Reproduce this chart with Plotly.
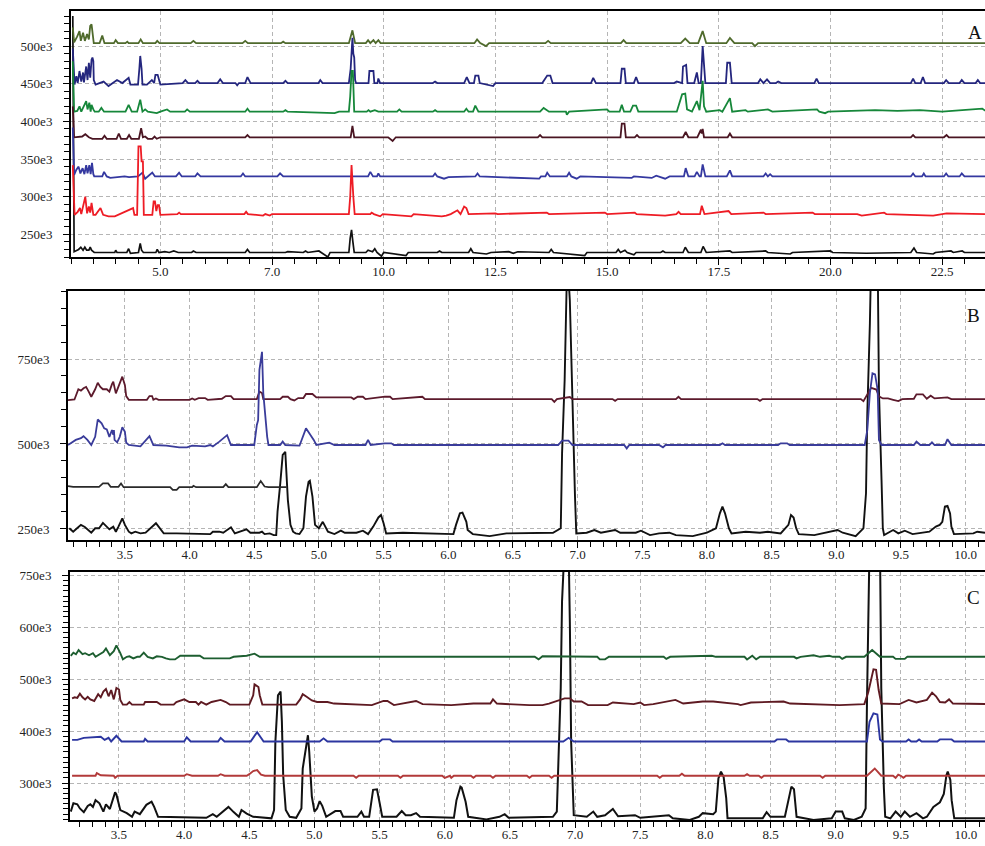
import plotly.graph_objects as go

W, H = 985, 846
FONT = "Liberation Serif, Times New Roman, serif"

# ---------------- Panel A (x: minutes, y: counts in thousands) ----------------
A_olive = [(3.04,525),(3.07,505),(3.14,513),(3.19,520),(3.22,507),(3.27,518),(3.31,507),(3.36,516),(3.40,509),(3.43,527),
           (3.46,529),(3.49,509),(3.51,504),(3.64,504),(3.70,514),(3.75,504),(3.96,504),(4.00,508),(4.05,504),(4.22,504),
           (4.26,506),(4.29,504),(4.51,504),(4.56,509),(4.61,504),(4.89,504),(4.93,507),(4.98,504),(5.68,504),(5.74,507),
           (5.80,504),(6.84,504),(6.90,507),(6.96,504),(7.70,504),(7.75,506),(7.80,504),(9.22,504),(9.30,521),(9.36,504),
           (9.60,504),(9.65,508),(9.70,504),(9.77,508),(9.82,504),(9.88,508),(9.93,504),(12.03,504),(12.09,509),(12.16,504),
           (12.29,500),(12.36,504),(13.62,504),(13.68,507),(13.74,504),(15.31,504),(15.37,508),(15.43,504),(16.65,504),(16.75,510),
           (16.85,504),(17.04,504),(17.14,520),(17.22,504),(17.67,504),(17.75,511),(17.85,504),(18.25,504),(18.31,500),(18.38,504),
           (23.5,504)]
A_navy = [(3.04,497),(3.08,449),(3.12,460),(3.15,451),(3.19,467),(3.23,453),(3.27,465),(3.29,452),(3.34,473),(3.37,455),
          (3.40,478),(3.43,458),(3.46,482),(3.48,485),(3.50,480),(3.51,455),(3.55,449),(3.73,453),(3.84,447),(4.03,455),
          (4.15,451),(4.29,458),(4.33,449),(4.50,449),(4.53,470),(4.55,487),(4.58,470),(4.60,449),(4.70,449),(4.81,455),
          (4.86,451),(4.89,462),(4.94,462),(4.97,453),(5.0,449),(5.50,451),(5.56,455),(5.62,451),(5.78,451),(5.83,454),
          (5.88,451),(6.28,451),(6.34,456),(6.40,451),(6.68,451),(6.72,448),(6.76,451),(6.90,451),(6.95,459),(7.02,451),
          (7.75,451),(7.80,454),(7.85,451),(8.54,451),(8.58,455),(8.63,451),(9.22,451),(9.26,470),(9.30,511),(9.32,490),
          (9.34,485),(9.36,455),(9.38,451),(9.66,451),(9.68,467),(9.77,467),(9.79,451),(9.86,451),(9.88,457),(9.92,451),
          (11.10,451),(11.15,453),(11.20,451),(11.80,451),(11.86,459),(11.92,451),(12.02,451),(12.05,461),(12.12,461),(12.15,451),
          (12.45,447),(12.5,451),(13.55,451),(13.66,461),(13.73,461),(13.78,451),(14.64,451),(14.69,458),(14.75,451),(15.30,451),
          (15.33,470),(15.39,470),(15.42,451),(15.60,451),(15.65,459),(15.70,451),(16.50,451),(16.56,453),(16.68,451),(16.70,473),
          (16.77,475),(16.80,451),(16.95,451),(17.01,465),(17.05,451),(17.10,451),(17.14,500),(17.20,451),(17.66,451),(17.69,478),
          (17.75,478),(17.79,451),(18.38,451),(18.43,456),(18.50,451),(18.58,456),(18.65,451),(18.78,451),(18.83,453),(18.90,451),
          (19.64,451),(19.69,457),(19.74,451),(21.80,451),(21.85,457),(21.90,451),(22.02,451),(22.07,459),(22.12,451),(22.54,451),
          (22.59,455),(22.65,451),(22.89,451),(22.94,455),(23.0,451),(23.25,451),(23.30,455),(23.35,451),(23.5,451)]
A_green = [(3.04,480),(3.07,413),(3.14,414),(3.19,420),(3.23,413),(3.30,422),(3.34,427),(3.37,416),(3.41,425),(3.44,413),
           (3.46,422),(3.50,416),(3.53,413),(3.62,413),(3.68,418),(3.74,413),(4.22,413),(4.29,422),(4.36,413),(4.48,413),
           (4.55,429),(4.60,413),(4.66,416),(4.72,413),(4.92,411),(5.0,413),(5.15,416),(5.22,413),(5.55,413),(5.60,416),
           (5.66,413),(6.9,413),(6.95,417),(7.0,413),(7.75,413),(7.8,415),(7.85,413),(8.9,411),(9.0,413),(9.22,413),
           (9.25,433),(9.28,467),(9.31,467),(9.34,413),(9.62,413),(9.66,415),(9.70,413),(9.80,415),(9.88,413),(10.3,413),
           (10.35,416),(10.4,413),(11.1,413),(11.15,415),(11.2,413),(11.8,413),(11.85,417),(11.9,413),(12.0,413),(12.05,421),
           (12.12,413),(13.5,413),(13.58,418),(13.7,413),(14.08,413),(14.1,409),(14.15,413),(15.0,416),(15.05,413),(15.28,413),
           (15.33,422),(15.38,413),(15.52,413),(15.58,421),(15.65,421),(15.7,413),(16.56,413),(16.68,436),(16.75,437),(16.79,416),
           (16.90,413),(17.01,427),(17.07,415),(17.14,454),(17.17,420),(17.22,413),(17.52,415),(17.58,413),(17.70,425),(17.75,431),
           (17.80,413),(18.1,415),(18.15,413),(18.6,416),(18.7,413),(19.7,416),(19.75,413),(19.88,411),(19.95,413),(20.5,414),
           (21.0,415),(21.5,414),(22.0,415),(22.5,413),(23.4,417),(23.5,413)]
A_maroon = [(3.04,420),(3.07,379),(3.25,380),(3.32,383),(3.40,379),(3.48,377),(3.70,377),(3.75,381),(3.80,377),(4.02,377),
            (4.07,384),(4.12,377),(4.25,377),(4.30,382),(4.35,377),(4.52,377),(4.57,391),(4.61,379),(4.66,380),(4.72,377),
            (4.82,377),(4.87,380),(4.92,377),(5.0,379),(6.9,379),(6.95,382),(7.0,379),(9.26,379),(9.30,394),(9.34,379),
            (10.1,379),(10.2,374),(10.27,379),(13.45,379),(13.5,382),(13.55,379),(15.30,379),(15.33,397),(15.39,397),(15.42,379),
            (15.62,379),(15.67,382),(15.72,379),(16.7,379),(16.76,386),(16.82,379),(17.02,379),(17.07,385),(17.1,389),(17.12,384),
            (17.14,390),(17.17,379),(17.70,379),(17.75,384),(17.80,379),(21.8,379),(21.85,382),(21.9,379),(22.54,379),(22.6,382),
            (22.65,379),(23.5,379)]
A_blue = [(3.04,392),(3.07,329),(3.12,336),(3.17,340),(3.21,331),(3.26,338),(3.30,330),(3.34,342),(3.37,331),(3.41,342),
          (3.44,330),(3.47,345),(3.50,330),(3.52,327),(3.70,327),(3.74,333),(3.80,327),(3.88,325),(4.2,327),(4.30,326),
          (4.50,327),(4.60,332),(4.66,324),(4.72,327),(4.82,332),(4.88,327),(5.35,327),(5.42,332),(5.48,327),(5.78,327),
          (5.83,331),(5.90,327),(6.8,327),(6.85,331),(6.9,327),(7.62,327),(7.68,331),(7.75,327),(9.65,327),(9.70,333),
          (9.76,327),(9.85,327),(9.88,331),(9.92,327),(11.10,327),(11.15,331),(11.2,327),(11.35,324),(11.45,326),(12.05,327),
          (12.1,331),(12.15,327),(13.48,324),(13.52,327),(13.62,327),(13.66,332),(13.72,327),(14.10,327),(14.15,332),(14.2,327),
          (14.32,324),(14.4,327),(15.55,325),(15.6,327),(16.0,325),(16.1,328),(16.3,324),(16.4,327),(16.72,327),(16.76,338),
          (16.82,327),(16.96,327),(17.01,333),(17.07,327),(17.10,327),(17.14,343),(17.2,327),(17.68,327),(17.75,335),(17.8,327),
          (18.5,327),(18.55,331),(18.6,327),(18.65,330),(18.7,327),(21.8,327),(21.85,331),(21.9,327),(22.05,327),(22.09,331),
          (22.13,327),(22.54,327),(22.59,331),(22.64,327),(22.89,327),(22.94,331),(23.0,327),(23.5,327)]
A_red = [(3.04,342),(3.08,276),(3.15,280),(3.20,285),(3.23,277),(3.30,292),(3.32,300),(3.36,278),(3.40,287),(3.43,279),
         (3.46,292),(3.50,276),(3.55,276),(3.66,285),(3.72,276),(3.84,274),(3.98,274),(4.39,285),(4.42,276),(4.48,276),
         (4.51,367),(4.56,367),(4.58,347),(4.61,347),(4.63,276),(4.82,276),(4.85,294),(4.88,294),(4.91,281),(4.94,289),
         (4.97,289),(5.0,276),(5.38,277),(5.42,279),(5.46,277),(6.88,277),(6.92,280),(6.96,277),(7.3,275),(7.35,277),
         (7.45,275),(7.5,277),(9.22,277),(9.25,300),(9.28,342),(9.32,300),(9.35,277),(9.70,277),(9.73,279),(9.78,277),
         (9.92,274),(9.98,277),(10.62,274),(10.67,277),(11.30,274),(11.40,275),(11.50,277),(11.65,282),(11.72,277),(11.80,287),
         (11.85,285),(11.90,277),(12.5,278),(12.55,277),(13.65,279),(13.7,277),(14.95,279),(15.0,277),(15.62,279),(15.66,277),
         (16.3,275),(16.55,277),(16.6,280),(16.65,277),(17.08,277),(17.12,288),(17.18,277),(17.72,281),(17.78,277),(18.5,279),
         (18.55,277),(19.6,279),(19.65,277),(20.6,277),(20.7,275),(21.2,279),(21.25,277),(22.3,275),(22.6,278),(23.5,277)]
A_black = [(3.04,540),(3.07,227),(3.17,230),(3.22,233),(3.27,229),(3.31,233),(3.35,229),(3.40,229),(3.43,233),(3.46,229),
           (3.52,226),(3.98,226),(4.0,229),(4.03,226),(4.25,226),(4.29,231),(4.33,225),(4.51,226),(4.55,238),(4.58,229),
           (4.62,226),(4.9,226),(4.93,230),(4.97,226),(5.1,227),(5.2,226),(5.3,228),(5.4,226),(5.7,226),(5.74,228),
           (5.8,226),(6.9,226),(6.95,230),(7.0,226),(7.8,226),(7.85,227),(8.2,226),(8.25,228),(8.3,226),(8.55,228),
           (8.6,226),(8.75,220),(8.8,226),(9.22,226),(9.25,245),(9.28,256),(9.31,240),(9.34,226),(9.6,226),(9.65,229),
           (9.75,227),(9.8,231),(9.85,226),(9.95,221),(10.0,226),(10.5,222),(10.55,226),(11.2,226),(11.25,228),(11.3,226),
           (11.9,226),(11.95,231),(12.0,226),(12.3,224),(12.4,226),(12.8,227),(12.9,225),(13.0,227),(13.7,226),(13.75,230),
           (13.8,226),(14.5,222),(14.55,226),(15.2,226),(15.25,230),(15.3,226),(15.4,229),(15.45,226),(15.6,223),(15.65,226),
           (16.2,226),(16.25,228),(16.3,226),(16.7,226),(16.75,233),(16.82,226),(17.1,226),(17.15,234),(17.22,226),(17.75,228),
           (17.8,226),(18.55,228),(18.6,226),(19.1,224),(19.15,226),(20.0,228),(20.05,226),(20.8,225),(21.8,226),(21.87,232),
           (21.93,226),(22.3,224),(22.35,226),(22.7,228),(22.75,226),(22.95,228),(23.0,226),(23.5,226)]

# ---------------- Panel B ----------------
B_maroon = [(3.06,629),(3.11,631),(3.14,661),(3.16,657),(3.18,664),(3.20,668),(3.22,654),(3.24,639),(3.27,661),(3.29,680),
            (3.31,668),(3.33,661),(3.36,661),(3.38,654),(3.40,676),(3.41,683),(3.43,649),(3.45,668),(3.47,690),(3.48,698),
            (3.50,673),(3.51,641),(3.53,630),(3.67,630),(3.69,641),(3.71,641),(3.72,630),(3.74,634),(3.76,630),(4.0,630),
            (4.02,634),(4.04,630),(4.07,635),(4.12,635),(4.14,630),(4.25,633),(4.28,641),(4.32,641),(4.34,632),(4.52,632),
            (4.54,654),(4.56,650),(4.57,632),(4.70,632),(4.72,639),(4.76,639),(4.78,632),(4.81,628),(4.84,635),(4.88,635),
            (4.90,647),(4.95,647),(4.98,637),(5.25,637),(5.27,632),(5.30,639),(5.34,639),(5.36,632),(5.51,639),(5.55,639),
            (5.57,632),(5.78,639),(5.80,639),(5.82,632),(6.80,632),(6.82,624),(6.84,632),(6.94,638),(6.96,632),(7.27,632),
            (7.29,627),(7.31,632),(7.76,632),(7.78,639),(7.80,632),(8.39,632),(8.41,627),(8.43,632),(9.19,632),(9.21,626),
            (9.24,645),(9.27,665),(9.31,660),(9.33,640),(9.36,634),(9.40,634),(9.44,630),(9.48,626),(9.51,632),(9.60,633),
            (9.62,646),(9.67,646),(9.70,633),(9.73,642),(9.76,634),(9.86,637),(9.89,632),(10.15,632)]
B_blue = [(3.06,497),(3.12,512),(3.16,517),(3.18,523),(3.21,512),(3.24,497),(3.27,521),(3.29,572),(3.32,561),(3.34,546),
          (3.36,543),(3.38,521),(3.40,541),(3.41,527),(3.415,541),(3.42,512),(3.44,505),(3.46,521),(3.48,549),(3.50,536),
          (3.51,504),(3.53,497),(3.62,493),(3.65,505),(3.69,523),(3.72,497),(3.82,495),(3.92,490),(3.98,490),(4.02,495),
          (4.12,493),(4.16,497),(4.18,493),(4.23,507),(4.29,526),(4.32,497),(4.50,497),(4.52,556),(4.53,570),(4.54,718),
          (4.56,771),(4.57,649),(4.58,600),(4.60,521),(4.61,497),(4.70,497),(4.72,507),(4.74,497),(4.85,495),(4.90,546),
          (4.96,512),(4.98,497),(5.08,504),(5.12,497),(5.36,497),(5.38,512),(5.40,497),(5.51,502),(5.56,502),(5.58,497),
          (6.85,497),(6.88,510),(6.93,510),(6.96,497),(7.36,497),(7.38,487),(7.40,497),(7.63,497),(7.66,490),(7.68,497),
          (8.10,497),(8.12,502),(8.14,497),(8.55,497),(8.57,502),(8.62,502),(8.64,497),(9.22,497),(9.24,541),(9.26,650),
          (9.28,708),(9.30,705),(9.32,659),(9.33,512),(9.35,497),(9.60,497),(9.62,507),(9.65,497),(9.72,497),(9.74,505),
          (9.76,497),(9.84,497),(9.86,514),(9.89,497),(10.15,497)]
B_gray = [(3.06,376),(3.10,374),(3.30,374),(3.33,384),(3.37,384),(3.39,374),(3.45,374),(3.47,384),(3.49,373),(3.85,373),
          (3.87,365),(3.90,365),(3.92,373),(4.02,373),(4.03,377),(4.05,373),(4.26,373),(4.28,382),(4.30,373),(4.52,373),
          (4.55,391),(4.58,375),(4.61,373),(4.75,373)]
B_black = [(3.07,252),(3.10,242),(3.13,252),(3.16,262),(3.19,256),(3.22,245),(3.24,239),(3.27,252),(3.30,252),(3.33,268),
           (3.36,256),(3.38,249),(3.41,257),(3.43,242),(3.45,257),(3.48,281),(3.50,262),(3.53,242),(3.55,237),(3.58,242),
           (3.62,237),(3.66,239),(3.74,267),(3.77,252),(3.80,237),(3.90,237),(4.16,235),(4.18,242),(4.23,242),(4.26,239),
           (4.32,255),(4.35,237),(4.44,249),(4.47,239),(4.54,239),(4.56,242),(4.58,235),(4.62,237),(4.65,232),(4.67,232),
           (4.68,301),(4.70,379),(4.72,468),(4.74,477),(4.75,409),(4.76,335),(4.78,262),(4.80,242),(4.82,237),(4.85,235),
           (4.88,252),(4.90,345),(4.92,389),(4.93,392),(4.95,345),(4.97,262),(5.0,252),(5.03,271),(5.07,242),(5.12,235),
           (5.17,245),(5.20,239),(5.29,239),(5.34,245),(5.38,235),(5.42,257),(5.46,284),(5.48,291),(5.50,267),(5.52,237),
           (5.65,239),(5.83,237),(6.04,235),(6.06,262),(6.09,296),(6.11,298),(6.14,271),(6.15,247),(6.19,235),(6.32,229),
           (6.45,237),(6.81,239),(6.87,252),(6.88,473),(6.90,688),(6.91,870),(6.92,1050),(6.94,923),(6.95,776),(6.96,590),
           (6.98,345),(6.99,237),(7.07,239),(7.13,247),(7.18,239),(7.29,247),(7.33,239),(7.45,239),(7.49,245),(7.56,232),
           (7.63,237),(7.71,239),(7.76,232),(7.89,229),(8.00,239),(8.07,252),(8.10,296),(8.12,316),(8.14,296),(8.17,252),
           (8.19,237),(8.30,242),(8.41,239),(8.47,242),(8.57,237),(8.63,262),(8.65,291),(8.67,284),(8.69,252),(8.71,235),
           (8.83,232),(9.01,247),(9.05,239),(9.15,229),(9.21,252),(9.23,355),(9.24,590),(9.26,855),(9.27,1050),(9.32,1050),
           (9.33,659),(9.35,394),(9.36,252),(9.37,232),(9.44,247),(9.48,237),(9.53,245),(9.59,235),(9.72,242),(9.77,257),
           (9.80,262),(9.82,271),(9.84,316),(9.86,318),(9.88,296),(9.89,257),(9.91,235),(10.06,237),(10.09,242),(10.15,239)]

# ---------------- Panel C ----------------
C_green = [(3.13,545),(3.15,551),(3.17,548),(3.19,556),(3.22,548),(3.24,550),(3.27,546),(3.30,550),(3.32,543),(3.35,548),
           (3.38,552),(3.40,559),(3.43,546),(3.46,554),(3.48,565),(3.51,550),(3.53,538),(3.56,543),(3.58,544),(3.61,540),
           (3.64,543),(3.66,543),(3.69,551),(3.72,543),(3.76,540),(3.79,544),(3.83,543),(3.86,540),(3.89,538),(3.93,538),
           (3.97,545),(4.12,545),(4.15,540),(4.35,540),(4.38,543),(4.48,545),(4.51,547),(4.54,549),(4.58,543),(6.69,543),
           (6.72,538),(6.75,544),(7.17,543),(7.19,538),(7.23,538),(7.26,543),(7.68,543),(7.70,539),(7.73,543),(8.00,545),
           (8.05,545),(8.08,543),(8.30,543),(8.32,538),(8.36,545),(8.39,538),(8.42,543),(8.68,543),(8.70,540),(8.73,543),
           (8.83,546),(8.88,543),(8.95,545),(8.98,543),(9.03,543),(9.05,539),(9.08,543),(9.22,543),(9.28,556),(9.34,543),
           (9.44,543),(9.46,539),(9.53,539),(9.55,543),(10.15,543)]
C_maroon = [(3.14,463),(3.16,465),(3.18,464),(3.20,472),(3.22,465),(3.24,461),(3.26,466),(3.28,461),(3.31,458),(3.34,471),
            (3.36,465),(3.38,476),(3.40,481),(3.42,467),(3.44,479),(3.46,461),(3.48,483),(3.50,480),(3.51,460),(3.53,451),
            (3.56,451),(3.58,456),(3.60,451),(3.69,451),(3.70,456),(3.79,456),(3.82,451),(3.92,451),(3.94,456),(4.00,461),
            (4.04,456),(4.09,456),(4.11,451),(4.13,456),(4.17,451),(4.21,456),(4.28,460),(4.32,456),(4.35,451),(4.50,451),
            (4.53,469),(4.54,490),(4.57,485),(4.58,469),(4.60,451),(4.86,451),(4.89,461),(4.91,471),(4.94,466),(4.98,459),
            (5.02,456),(5.10,456),(5.15,453),(5.44,450),(5.53,458),(5.56,458),(5.61,450),(5.78,458),(5.83,452),(6.05,450),
            (6.22,453),(6.35,453),(6.37,461),(6.40,453),(6.65,450),(6.75,450),(6.80,453),(6.92,463),(6.96,463),(6.99,457),
            (7.05,457),(7.10,450),(7.25,450),(7.29,455),(7.45,452),(7.50,455),(7.53,450),(7.60,452),(7.77,460),(7.83,453),
            (7.98,457),(8.06,457),(8.25,452),(8.27,450),(8.35,455),(8.60,457),(8.65,453),(9.03,450),(9.22,452),(9.25,475),
            (9.29,519),(9.31,518),(9.33,479),(9.35,453),(9.49,452),(9.56,460),(9.62,455),(9.70,460),(9.74,474),(9.77,467),
            (9.80,456),(9.84,455),(9.87,461),(9.90,453),(10.15,452)]
C_blue = [(3.14,383),(3.18,383),(3.23,387),(3.28,388),(3.32,389),(3.36,389),(3.39,383),(3.42,387),(3.44,380),(3.48,391),
          (3.52,380),(3.69,380),(3.70,385),(3.72,380),(4.00,380),(4.02,388),(4.05,380),(4.26,380),(4.28,387),(4.31,380),
          (4.51,380),(4.56,398),(4.61,380),(5.04,380),(5.07,386),(5.10,380),(5.50,380),(5.52,384),(5.58,384),(5.60,380),
          (6.91,380),(6.95,387),(6.99,380),(8.53,380),(8.55,384),(8.62,384),(8.64,380),(9.24,380),(9.26,418),(9.29,434),
          (9.32,432),(9.34,384),(9.36,380),(9.54,380),(9.56,384),(9.58,380),(9.62,380),(9.64,384),(9.66,380),(9.78,380),
          (9.80,384),(9.89,384),(9.91,380),(10.15,380)]
C_red = [(3.14,314),(3.32,314),(3.33,319),(3.36,315),(3.46,314),(3.47,310),(3.49,314),(4.00,314),(4.02,317),(4.06,314),
         (4.26,314),(4.28,317),(4.31,314),(4.48,314),(4.50,317),(4.53,323),(4.56,325),(4.59,316),(4.62,314),(5.30,314),
         (5.32,310),(5.34,314),(5.64,314),(5.66,310),(5.68,314),(5.98,314),(6.0,310),(6.04,314),(6.05,310),(6.07,314),
         (6.20,314),(6.22,310),(6.24,314),(6.35,314),(6.37,310),(6.39,314),(6.63,314),(6.65,310),(6.67,314),(6.80,314),
         (6.82,310),(6.84,314),(7.63,314),(7.65,310),(7.67,314),(7.80,314),(7.82,318),(7.84,314),(8.30,314),(8.32,317),
         (8.34,314),(8.41,314),(8.43,310),(8.45,314),(8.88,314),(8.90,310),(8.92,314),(9.24,314),(9.30,328),(9.35,314),
         (9.44,314),(9.46,310),(9.48,316),(9.50,314),(9.52,310),(9.54,314),(10.15,314)]
C_black = [(3.13,245),(3.15,261),(3.18,259),(3.20,251),(3.23,244),(3.26,256),(3.28,259),(3.30,254),(3.32,267),(3.35,261),
           (3.38,245),(3.40,259),(3.43,250),(3.47,282),(3.48,278),(3.51,248),(3.56,242),(3.60,235),(3.62,245),(3.66,240),
           (3.71,258),(3.75,264),(3.77,254),(3.80,235),(4.17,233),(4.22,240),(4.25,235),(4.34,254),(4.38,244),(4.42,235),
           (4.44,248),(4.48,241),(4.53,235),(4.62,233),(4.67,232),(4.69,248),(4.70,379),(4.72,469),(4.74,476),(4.75,418),
           (4.76,315),(4.78,248),(4.81,235),(4.86,233),(4.90,251),(4.91,328),(4.94,376),(4.95,392),(4.96,360),(4.98,274),
           (5.00,245),(5.02,251),(5.04,265),(5.06,256),(5.09,235),(5.16,246),(5.20,246),(5.22,235),(5.33,235),(5.36,245),
           (5.38,235),(5.42,235),(5.45,287),(5.48,288),(5.50,262),(5.52,235),(5.63,235),(5.67,246),(5.70,238),(5.74,238),
           (5.78,242),(5.81,235),(6.07,233),(6.09,267),(6.12,293),(6.13,291),(6.16,264),(6.18,235),(6.32,230),(6.42,235),
           (6.46,240),(6.49,233),(6.83,235),(6.86,245),(6.89,482),(6.90,649),(6.92,760),(6.95,760),(6.96,610),(6.97,379),
           (6.99,238),(7.09,235),(7.14,245),(7.17,235),(7.23,238),(7.29,250),(7.33,236),(7.46,238),(7.50,233),(7.72,238),
           (7.75,232),(7.88,229),(7.95,235),(7.98,242),(8.06,240),(8.08,245),(8.10,309),(8.12,322),(8.14,312),(8.16,271),
           (8.17,232),(8.44,232),(8.47,244),(8.50,235),(8.61,235),(8.64,274),(8.66,293),(8.68,288),(8.70,235),(8.83,229),
           (8.97,232),(9.00,245),(9.05,245),(9.07,232),(9.14,229),(9.20,235),(9.23,251),(9.24,450),(9.25,610),(9.26,760),
           (9.34,760),(9.35,482),(9.37,290),(9.38,235),(9.42,232),(9.46,245),(9.50,235),(9.53,245),(9.57,235),(9.62,242),
           (9.67,232),(9.70,235),(9.75,254),(9.80,263),(9.83,279),(9.85,315),(9.86,322),(9.88,306),(9.89,267),(9.91,232),
           (10.15,232)]

# ---------------- tick labels ----------------
A_xtickvals = [5.0, 7.5, 10.0, 12.5, 15.0, 17.5, 20.0, 22.5]
A_xticktext = ["5.0", "7.0", "10.0", "12.5", "15.0", "17.5", "20.0", "22.5"]
A_ytickvals = [250, 300, 350, 400, 450, 500]
A_yticktext = ["250e3", "300e3", "350e3", "400e3", "450e3", "500e3"]
BC_xtickvals = [3.5, 4.0, 4.5, 5.0, 5.5, 6.0, 6.5, 7.0, 7.5, 8.0, 8.5, 9.0, 9.5, 10.0]
BC_xticktext = ["3.5", "4.0", "4.5", "5.0", "5.5", "6.0", "6.5", "7.0", "7.5", "8.0", "8.5", "9.0", "9.5", "10.0"]
B_ytickvals = [250, 500, 750]
B_yticktext = ["250e3", "500e3", "750e3"]
C_ytickvals = [300, 400, 500, 600, 700]
C_yticktext = ["300e3", "400e3", "500e3", "600e3", "750e3"]
panel_labels = ["A", "B", "C"]

fig = go.Figure()


def add(pairs, color, width, ax):
    xs = [p[0] for p in pairs]
    ys = [p[1] for p in pairs]
    fig.add_trace(go.Scatter(x=xs, y=ys, mode="lines",
                             line=dict(color=color, width=width, shape="linear"),
                             xaxis="x" + ax, yaxis="y" + ax,
                             showlegend=False, hoverinfo="skip"))


add(A_black, "#111111", 1.7, "")
add(A_olive, "#4f6a2c", 1.8, "")
add(A_navy, "#24267e", 1.8, "")
add(A_green, "#16873a", 1.8, "")
add(A_maroon, "#4a1522", 1.8, "")
add(A_blue, "#3438a0", 1.8, "")
add(A_red, "#ee1c25", 1.8, "")

add(B_black, "#111111", 1.9, "2")
add(B_gray, "#2a2a2a", 1.7, "2")
add(B_maroon, "#5c1a2c", 1.8, "2")
add(B_blue, "#3a3c9a", 1.8, "2")

add(C_black, "#111111", 2.0, "3")
add(C_red, "#b23a3a", 1.9, "3")
add(C_blue, "#2c36a0", 1.9, "3")
add(C_maroon, "#5e1a22", 1.9, "3")
add(C_green, "#1d5e30", 1.9, "3")

tickfont = dict(family=FONT, size=13, color="#222222")
grid = dict(showgrid=True, gridcolor="#b5b5b5", gridwidth=1.3, griddash="4px,3px")


def xaxis(domain, rng, anchor, vals, text, mdt):
    return dict(domain=domain, range=rng, anchor=anchor, tickmode="array", tickvals=vals, ticktext=text,
                ticks="outside", ticklen=6, tickwidth=1.4, tickcolor="black", ticklabelstandoff=-5,
                showline=True, linewidth=2, linecolor="black", mirror=True, zeroline=False,
                tickfont=tickfont, fixedrange=True, automargin=False,
                minor=dict(tickmode="linear", tick0=0, dtick=mdt, ticks="outside", ticklen=5,
                           tickwidth=1.2, tickcolor="black", showgrid=False), **grid)


def yaxis(domain, rng, anchor, vals, text, mdt):
    return dict(domain=domain, range=rng, anchor=anchor, tickmode="array", tickvals=vals, ticktext=text,
                ticks="outside", ticklen=6, tickwidth=1.4, tickcolor="black", ticklabelstandoff=8,
                showline=True, linewidth=2, linecolor="black", mirror=False, zeroline=False,
                tickfont=tickfont, fixedrange=True, automargin=False,
                minor=dict(tickmode="linear", tick0=0, dtick=mdt, ticks="outside", ticklen=5,
                           tickwidth=1.2, tickcolor="black", showgrid=False), **grid)


def px_x(p):
    return p / W


def px_y(p):
    return 1 - p / H


fig.update_layout(
    width=W, height=H, template="none",
    paper_bgcolor="white", plot_bgcolor="white",
    margin=dict(l=0, r=0, t=0, b=0, autoexpand=False),
    xaxis=xaxis([px_x(71), 1], [3.0, 23.46], "y", A_xtickvals, A_xticktext, 0.5),
    yaxis=yaxis([px_y(257), px_y(11)], [220, 546.7], "x", A_ytickvals, A_yticktext, 10),
    xaxis2=xaxis([px_x(68), 1], [3.06, 10.15], "y2", BC_xtickvals, BC_xticktext, 0.1),
    yaxis2=yaxis([px_y(540), px_y(291)], [217.6, 950], "x2", B_ytickvals, B_yticktext, 50),
    xaxis3=xaxis([px_x(70), 1], [3.124, 10.146], "y3", BC_xtickvals, BC_xticktext, 0.1),
    yaxis3=yaxis([px_y(820), px_y(572)], [228.8, 706.3], "x3", C_ytickvals, C_yticktext, 10),
    showlegend=False,
)

label_pos = [(975, 32), (973, 315), (973, 597)]
for lab, (lx, ly) in zip(panel_labels, label_pos):
    fig.add_annotation(text=lab, x=px_x(lx), y=px_y(ly), xref="paper", yref="paper",
                       showarrow=False, xanchor="center", yanchor="middle",
                       font=dict(family=FONT, size=19, color="#111111"))

# remove the browser's default page margin so the figure fills the 985x846 window exactly
fig.write_html("out.html",
               config={"displayModeBar": False},
               post_script="document.body.style.margin='0';"
                           "document.body.style.overflow='hidden';"
                           "document.documentElement.style.overflow='hidden';")
